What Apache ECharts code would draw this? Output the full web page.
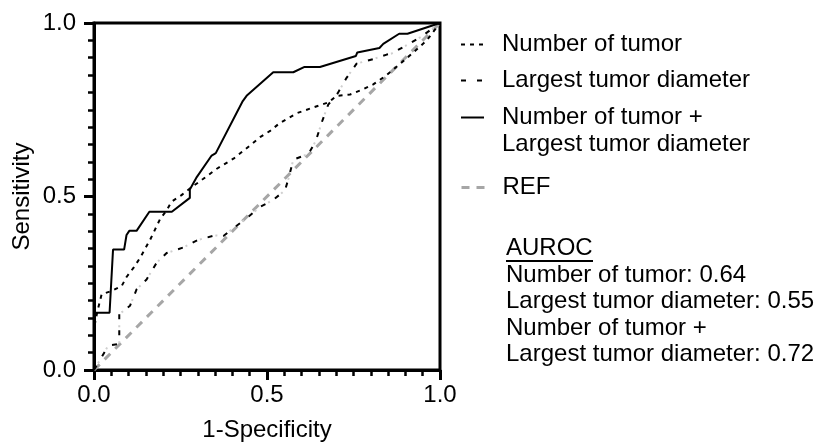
<!DOCTYPE html>
<html><head><meta charset="utf-8">
<script src="https://cdn.jsdelivr.net/npm/echarts@6/dist/echarts.min.js"></script>
<style>html,body{margin:0;padding:0;background:#fff}#c{width:817px;height:447px}</style>
</head><body><div id="c"></div>
<script>
const FONT = 'Liberation Sans';
// tick labels
const tickValues = [0.0, 0.5, 1.0];
// Number of tumor
const ntX = [0, 0, 0.01, 0.022, 0.051, 0.08, 0.094, 0.114, 0.133, 0.162, 0.191, 0.21, 0.224, 0.253, 0.277, 0.316, 0.355, 0.403, 0.451, 0.48, 0.509, 0.536, 0.586, 0.644, 0.677, 0.701, 0.74, 0.778, 0.807, 0.846, 0.884, 0.923, 0.961, 1];
const ntY = [0, 0.12, 0.17, 0.218, 0.228, 0.242, 0.268, 0.294, 0.323, 0.375, 0.435, 0.46, 0.485, 0.504, 0.523, 0.551, 0.58, 0.609, 0.647, 0.671, 0.689, 0.711, 0.74, 0.76, 0.771, 0.79, 0.794, 0.809, 0.823, 0.85, 0.882, 0.915, 0.949, 1];
// Largest tumor diameter
const ltdX = [0, 0.022, 0.041, 0.073, 0.073, 0.104, 0.123, 0.152, 0.181, 0.21, 0.258, 0.301, 0.35, 0.374, 0.403, 0.441, 0.48, 0.518, 0.552, 0.562, 0.576, 0.62, 0.641, 0.658, 0.677, 0.704, 0.73, 0.759, 0.807, 0.846, 0.86, 0.9, 0.945, 1];
const ltdY = [0, 0.037, 0.07, 0.075, 0.161, 0.185, 0.232, 0.261, 0.309, 0.337, 0.353, 0.375, 0.388, 0.386, 0.409, 0.437, 0.47, 0.49, 0.518, 0.551, 0.606, 0.623, 0.66, 0.713, 0.765, 0.797, 0.842, 0.883, 0.896, 0.909, 0.912, 0.934, 0.96, 1];
// Number of tumor + Largest tumor diameter
const combX = [0, 0, 0.005, 0.045, 0.055, 0.087, 0.094, 0.102, 0.123, 0.16, 0.225, 0.277, 0.277, 0.297, 0.34, 0.352, 0.43, 0.441, 0.518, 0.576, 0.607, 0.653, 0.757, 0.761, 0.825, 0.836, 0.882, 0.906, 1];
const combY = [0, 0.14, 0.165, 0.165, 0.347, 0.347, 0.389, 0.401, 0.401, 0.456, 0.456, 0.496, 0.52, 0.556, 0.618, 0.625, 0.775, 0.79, 0.858, 0.858, 0.873, 0.873, 0.905, 0.915, 0.928, 0.94, 0.969, 0.969, 1];
// Reference
const refX = [0, 1];
const refY = [0, 1];

const nameNT = 'Number of tumor';
const nameLTD = 'Largest tumor diameter';
const nameComb = 'Number of tumor +\nLargest tumor diameter';
const nameRef = 'REF';
const aurocTitle = 'AUROC';
const aurocLines = ['Number of tumor: 0.64', 'Largest tumor diameter: 0.55', 'Number of tumor +', 'Largest tumor diameter: 0.72'];

const zip = (xs, ys) => xs.map((x, i) => [x, ys[i]]);

const chart = echarts.init(document.getElementById('c'), null, {renderer: 'canvas'});

const axisCommon = {
  type: 'value', min: 0, max: 1, interval: 0.5,
  axisLine: {show: true, onZero: false, lineStyle: {color: '#000', width: 3}},
  axisTick: {show: true, length: 10, lineStyle: {color: '#000', width: 3}},
  minorTick: {show: true, splitNumber: 10, length: 6, lineStyle: {color: '#000', width: 2.5}},
  splitLine: {show: false},
  axisLabel: {color: '#000', fontSize: 24, fontFamily: FONT,
    formatter: v => tickValues.find(t => Math.abs(t - v) < 1e-9).toFixed(1)},
  nameLocation: 'middle',
  nameTextStyle: {color: '#000', fontSize: 24, fontFamily: FONT}
};

const legendCommon = {
  orient: 'vertical', left: 460, padding: 0, itemWidth: 23, itemHeight: 14,
  selectedMode: false,
  itemStyle: {opacity: 0},
  textStyle: {fontSize: 24, fontFamily: FONT, color: '#000', lineHeight: 27, padding: [0, 0, 0, 13]}
};

const aurocX = 506;
const aurocYs = [250, 277, 303, 330, 356];

chart.setOption({
  animation: false,
  backgroundColor: '#fff',
  grid: {left: 94, right: 377, top: 23, bottom: 74, show: true, borderColor: '#000', borderWidth: 3},
  xAxis: Object.assign({}, axisCommon, {
    name: '1-Specificity', nameGap: 48,
    axisLabel: Object.assign({}, axisCommon.axisLabel, {margin: 13})
  }),
  yAxis: Object.assign({}, axisCommon, {
    name: 'Sensitivity', nameGap: 60,
    axisLabel: Object.assign({}, axisCommon.axisLabel, {margin: 18})
  }),
  legend: [
    Object.assign({}, legendCommon, {data: [nameNT], top: 31}),
    Object.assign({}, legendCommon, {data: [nameLTD], top: 67}),
    Object.assign({}, legendCommon, {data: [nameComb], top: 77,
      formatter: n => '\n' + n}),
    Object.assign({}, legendCommon, {data: [nameRef], top: 174, lineStyle: {width: 3}})
  ],
  graphic: [
    {type: 'text', left: aurocX, top: aurocYs[0] - 14, style: {text: aurocTitle, font: '24px ' + FONT, fill: '#000'}},
    {type: 'line', shape: {x1: aurocX, y1: aurocYs[0] + 11, x2: aurocX + 87, y2: aurocYs[0] + 11}, style: {stroke: '#000', lineWidth: 2}},
    ...aurocLines.map((t, i) => ({type: 'text', left: aurocX, top: aurocYs[i + 1] - 14,
      style: {text: t, font: '24px ' + FONT, fill: '#000'}}))
  ],
  series: [
    {name: nameRef, type: 'line', data: zip(refX, refY), symbol: 'none', z: 1,
      lineStyle: {color: '#a6a6a6', width: 3, type: [8, 7]}, itemStyle: {color: '#a6a6a6'}},
    {name: 'ltd-dots', type: 'line', data: zip(ltdX, ltdY), symbol: 'none', z: 2,
      lineStyle: {color: '#cfcfcf', width: 2, type: [2, 14], dashOffset: 8}},
    {name: nameLTD, type: 'line', data: zip(ltdX, ltdY), symbol: 'none', z: 3,
      lineStyle: {color: '#000', width: 2, type: [5, 11]}, itemStyle: {color: '#000'}},
    {name: nameNT, type: 'line', data: zip(ntX, ntY), symbol: 'none', z: 3,
      lineStyle: {color: '#000', width: 2, type: [4, 5]}, itemStyle: {color: '#000'}},
    {name: nameComb, type: 'line', data: zip(combX, combY), symbol: 'none', z: 4,
      lineStyle: {color: '#000', width: 2, type: 'solid'}, itemStyle: {color: '#000'}}
  ]
});
</script></body></html>
